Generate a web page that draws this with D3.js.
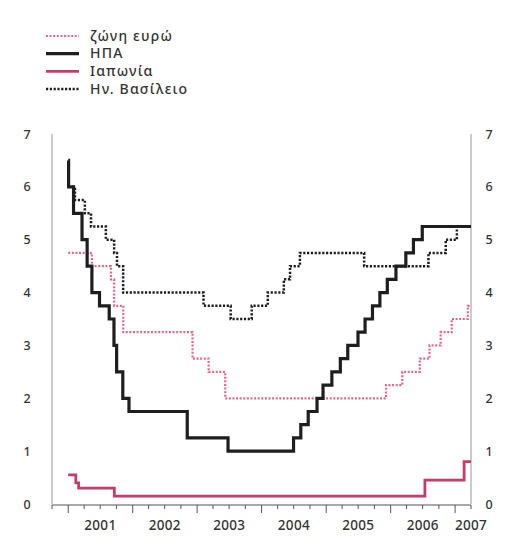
<!DOCTYPE html>
<html>
<head>
<meta charset="utf-8">
<script src="https://cdn.jsdelivr.net/npm/d3@7.9.0/dist/d3.min.js"></script>
<style>
  html, body { margin: 0; padding: 0; background: #fff; }
  svg { display: block; font-family: "Noto Sans", "Open Sans", sans-serif; }
</style>
</head>
<body>
<svg id="chart" width="512" height="556"></svg>
<script>
// policy rates, %, step changes (date the rate took effect)
const euroDates = ["2001-01-01", "2001-05-15", "2001-08-31", "2001-09-18", "2001-11-09", "2002-12-06", "2003-03-07", "2003-06-09",
  "2005-12-06", "2006-03-08", "2006-06-15", "2006-08-09", "2006-10-11", "2006-12-13", "2007-03-14"];
const euroRates = [4.75, 4.5, 4.25, 3.75, 3.25, 2.75, 2.5, 2.0, 2.25, 2.5, 2.75, 3.0, 3.25, 3.5, 3.75];

const usDates = ["2001-01-01", "2001-01-03", "2001-01-31", "2001-03-20", "2001-04-18", "2001-05-15", "2001-06-27", "2001-08-21",
  "2001-09-17", "2001-10-02", "2001-11-06", "2001-12-11", "2002-11-06", "2003-06-25", "2004-06-30", "2004-08-10",
  "2004-09-21", "2004-11-10", "2004-12-14", "2005-02-02", "2005-03-22", "2005-05-03", "2005-06-30", "2005-08-09",
  "2005-09-20", "2005-11-01", "2005-12-13", "2006-01-31", "2006-03-28", "2006-05-10", "2006-06-29"];
const usRates = [6.5, 6.0, 5.5, 5.0, 4.5, 4.0, 3.75, 3.5, 3.0, 2.5, 2.0, 1.75, 1.25, 1.0, 1.25, 1.5,
  1.75, 2.0, 2.25, 2.5, 2.75, 3.0, 3.25, 3.5, 3.75, 4.0, 4.25, 4.5, 4.75, 5.0, 5.25];

const japanDates = ["2001-01-01", "2001-02-13", "2001-03-01", "2001-09-19", "2006-07-14", "2007-02-21"];
const japanRates = [0.55, 0.4, 0.3, 0.15, 0.45, 0.8];

const ukDates = ["2001-01-01", "2001-02-08", "2001-04-05", "2001-05-10", "2001-08-02", "2001-09-18", "2001-10-04", "2001-11-08",
  "2003-02-06", "2003-07-10", "2003-11-06", "2004-02-05", "2004-05-06", "2004-06-10", "2004-08-05", "2005-08-04",
  "2006-08-03", "2006-11-09", "2007-01-11"];
const ukRates = [6.0, 5.75, 5.5, 5.25, 5.0, 4.75, 4.5, 4.0, 3.75, 3.5, 3.75, 4.0, 4.25, 4.5, 4.75, 4.5, 4.75, 5.0, 5.25];

const yTicks = [0, 1, 2, 3, 4, 5, 6, 7];
const yearLabels = ["2001", "2002", "2003", "2004", "2005", "2006", "2007"];

const seriesNames = ["ζώνη ευρώ", "ΗΠΑ", "Ιαπωνία", "Ην. Βασίλειο"];

const parse = d3.timeParse("%Y-%m-%d");
const svg = d3.select("#chart");

const plotLeft = 52, plotRight = 471, plotTop = 134, plotBottom = 504;
const start = parse("2000-10-01"), end = parse("2007-04-01");

const x = d3.scaleTime().domain([start, end]).range([plotLeft, plotRight]);
const y = d3.scaleLinear().domain([0, 7]).range([plotBottom, plotTop]);

const styles = {
  "ζώνη ευρώ": { color: "#de6a8a", width: 2.2, dash: "2,1.6" },
  "ΗΠΑ": { color: "#1e1e1e", width: 3.2, dash: null },
  "Ιαπωνία": { color: "#c03e68", width: 2.8, dash: null },
  "Ην. Βασίλειο": { color: "#1e1e1e", width: 2.5, dash: "2.2,1.6" }
};

function makeSeries(dates, rates) {
  const pts = dates.map((d, i) => ({ date: parse(d), value: rates[i] }));
  pts.push({ date: end, value: rates[rates.length - 1] });
  return pts;
}

const data = {
  "ζώνη ευρώ": makeSeries(euroDates, euroRates),
  "ΗΠΑ": makeSeries(usDates, usRates),
  "Ιαπωνία": makeSeries(japanDates, japanRates),
  "Ην. Βασίλειο": makeSeries(ukDates, ukRates)
};

// vertical axes
svg.append("line").attr("x1", plotLeft).attr("x2", plotLeft).attr("y1", y(7)).attr("y2", plotBottom)
  .attr("stroke", "#a8a8a8").attr("stroke-width", 1.2);
svg.append("line").attr("x1", plotRight).attr("x2", plotRight).attr("y1", y(7)).attr("y2", plotBottom)
  .attr("stroke", "#a8a8a8").attr("stroke-width", 1.2);

svg.selectAll(".ylab-l").data(yTicks).enter().append("text")
  .attr("x", 27).attr("y", d => y(d) + 4.5)
  .attr("text-anchor", "middle").attr("font-size", 12.5).attr("font-weight", 500).attr("fill", "#333")
  .text(d => d);
svg.selectAll(".ylab-r").data(yTicks).enter().append("text")
  .attr("x", 489).attr("y", d => y(d) + 4.5)
  .attr("text-anchor", "middle").attr("font-size", 12.5).attr("font-weight", 500).attr("fill", "#333")
  .text(d => d);

// x axis: quarterly ticks, longer at year start
svg.append("line").attr("x1", plotLeft).attr("x2", plotRight).attr("y1", plotBottom + 1).attr("y2", plotBottom + 1)
  .attr("stroke", "#555").attr("stroke-width", 1.2);
const quarters = d3.timeMonth.every(3).range(start, d3.timeDay.offset(end, 1));
svg.selectAll(".xtick").data(quarters).enter().append("line")
  .attr("x1", d => x(d)).attr("x2", d => x(d))
  .attr("y1", plotBottom + 1)
  .attr("y2", d => d.getMonth() === 0 ? plotBottom + 9 : plotBottom + 5)
  .attr("stroke", "#555").attr("stroke-width", 1);

svg.selectAll(".xlab").data(yearLabels).enter().append("text")
  .attr("x", d => {
    const y0 = parse(d + "-01-01");
    if (d3.timeYear.offset(y0, 1) > end) return x(end);
    return x(parse(d + "-07-02"));
  })
  .attr("y", 530)
  .attr("text-anchor", "middle").attr("font-size", 13.5).attr("font-weight", 500)
  .attr("letter-spacing", 0.3).attr("fill", "#333")
  .text(d => d);

// step lines
const line = d3.line().curve(d3.curveStepAfter).x(d => x(d.date)).y(d => y(d.value));
const drawOrder = ["ζώνη ευρώ", "Ην. Βασίλειο", "Ιαπωνία", "ΗΠΑ"];
drawOrder.forEach(name => {
  const s = styles[name];
  svg.append("path").datum(data[name])
    .attr("d", line)
    .attr("fill", "none")
    .attr("stroke", s.color)
    .attr("stroke-width", s.width)
    .attr("stroke-dasharray", s.dash)
    .attr("stroke-linejoin", "miter");
});

// legend
const legend = svg.append("g");
seriesNames.forEach((name, i) => {
  const s = styles[name];
  const cy = 36 + i * 17.7;
  legend.append("line").attr("x1", 46).attr("x2", 79).attr("y1", cy).attr("y2", cy)
    .attr("stroke", s.color).attr("stroke-width", s.width).attr("stroke-dasharray", s.dash);
  legend.append("text").attr("x", 90).attr("y", cy + 4.5)
    .attr("font-size", 14).attr("font-weight", 500).attr("letter-spacing", 1.2).attr("fill", "#333")
    .text(name);
});
</script>
</body>
</html>
